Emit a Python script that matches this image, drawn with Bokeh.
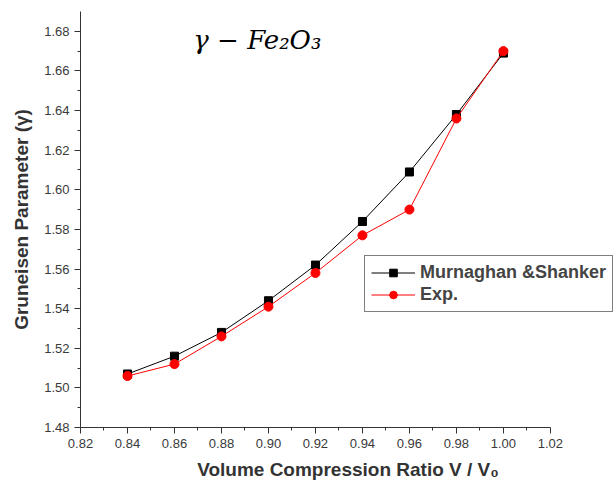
from bokeh.plotting import figure
from bokeh.models import Legend, LegendItem, Label, Range1d, FixedTicker, CustomJSTickFormatter
from bokeh.embed import file_html
from bokeh.resources import INLINE

ratio = [0.84, 0.86, 0.88, 0.90, 0.92, 0.94, 0.96, 0.98, 1.00]
murnaghan = [1.507, 1.516, 1.528, 1.544, 1.562, 1.584, 1.609, 1.638, 1.669]
exp_vals = [1.506, 1.512, 1.526, 1.541, 1.558, 1.577, 1.590, 1.636, 1.670]
x_ticks = [0.82, 0.84, 0.86, 0.88, 0.90, 0.92, 0.94, 0.96, 0.98, 1.00, 1.02]
y_ticks = [1.48, 1.50, 1.52, 1.54, 1.56, 1.58, 1.60, 1.62, 1.64, 1.66, 1.68]

p = figure(width=615, height=486, output_backend="svg", toolbar_location=None,
           x_range=Range1d(0.82, 1.0477), y_range=Range1d(1.48, 1.69))
p.frame_width = 535
p.frame_height = 416
p.min_border_left = 80
p.min_border_right = 0
p.min_border_top = 11
p.min_border_bottom = 59
p.outline_line_color = None
p.grid.visible = False
p.background_fill_color = "white"
p.border_fill_color = "white"

for ax in (p.xaxis[0], p.yaxis[0]):
    ax.major_label_text_font = "Liberation Sans"
    ax.major_label_text_font_size = "13px"
    ax.major_label_text_color = "#3a3a3a"
    ax.axis_label_text_font = "Liberation Sans"
    ax.axis_label_text_font_style = "bold"
    ax.axis_label_text_font_size = "19px"
    ax.axis_label_text_color = "#333333"
    ax.axis_line_color = "#333333"
    ax.major_tick_line_color = "#333333"
    ax.minor_tick_line_color = "#333333"
    ax.major_tick_out = 6
    ax.major_tick_in = 0
    ax.minor_tick_out = 3
    ax.minor_tick_in = 0

p.xaxis.bounds = (0.82, 1.02)
p.xaxis.ticker = FixedTicker(ticks=x_ticks, minor_ticks=[0.83 + 0.02 * i for i in range(10)])
p.yaxis.ticker = FixedTicker(ticks=y_ticks, minor_ticks=[1.49 + 0.02 * i for i in range(10)])
p.xaxis.formatter = CustomJSTickFormatter(code="return tick.toFixed(2);")
p.yaxis.formatter = CustomJSTickFormatter(code="return tick.toFixed(2);")
p.xaxis.axis_label = "Volume Compression Ratio V / V\u2080"
p.yaxis.axis_label = "Gruneisen Parameter (\u03b3)"
p.xaxis.axis_label_standoff = 8
p.yaxis.axis_label_standoff = 9

l1 = p.line(ratio, murnaghan, line_color="black", line_width=1)
s1 = p.scatter(ratio, murnaghan, marker="square", size=8, fill_color="black", line_color="black")
l2 = p.line(ratio, exp_vals, line_color="red", line_width=1)
s2 = p.scatter(ratio, exp_vals, marker="circle", size=9, fill_color="red", line_color="red")

legend = Legend(items=[LegendItem(label="Murnaghan &Shanker", renderers=[l1, s1]),
                       LegendItem(label="Exp.", renderers=[l2, s2])],
                location=(284, 115))
legend.label_text_font = "Liberation Sans"
legend.label_text_font_style = "bold"
legend.label_text_font_size = "18px"
legend.label_height = 19
legend.glyph_height = 19
legend.glyph_width = 44
legend.spacing = 1
legend.padding = 6
legend.margin = 0
legend.border_line_color = "black"
legend.border_line_width = 1
legend.background_fill_alpha = 1
p.add_layout(legend)

title = Label(x=0.868, y=1.668, text="\u03b3 \u2212 Fe\u2082O\u2083",
              text_font="DejaVu Serif", text_font_style="italic",
              text_font_size="26px", text_color="black")
p.add_layout(title)

open("out.html", "w").write(file_html(p, INLINE))
